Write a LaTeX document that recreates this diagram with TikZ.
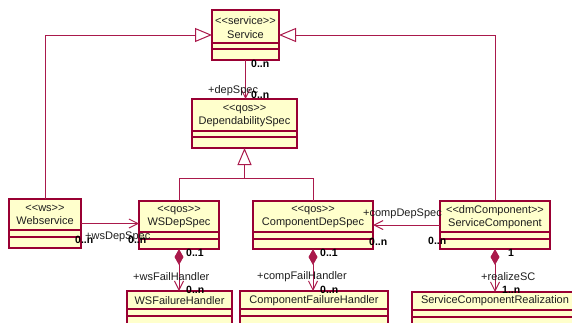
\documentclass[tikz,border=0pt]{standalone}
\usepackage{fontspec}
\setmainfont{Liberation Sans}
\usetikzlibrary{arrows.meta}
\definecolor{bd}{RGB}{153,0,51}
\definecolor{ln}{RGB}{170,25,75}
\definecolor{fl}{RGB}{255,255,204}
\definecolor{tx}{RGB}{30,30,30}
\tikzset{
  box/.style={draw=bd, fill=fl, line width=1.2pt, inner sep=0pt, outer sep=0pt, rectangle},
  boxsep/.style={draw=bd, line width=1.1pt},
  title/.style={font=\fontsize{11}{13.5}\selectfont, align=center, text=tx, inner sep=0pt},
  conn/.style={draw=ln, line width=1pt},
  gen/.style={conn, -{Triangle[open, length=17pt, width=14pt]}},
  nav/.style={conn, -{Straight Barb[length=9pt, width=9pt]}},
  comp/.style={conn, {Diamond[length=16pt, width=9pt, fill=ln]}-{Straight Barb[length=9pt, width=9pt]}},
  lab/.style={font=\fontsize{11}{12}\selectfont, text=tx, inner sep=0pt, anchor=west},
  mult/.style={lab, font=\fontsize{10.5}{12}\selectfont\bfseries, text=black},
}
\newcommand\st[1]{{<}{<}#1{>}{>}}
\newcommand\umlbox[7]{%
  \node[box, anchor=north west, minimum width={(#4-#2)*1pt}, minimum height={(#5-#3)*1pt}] (#1) at (#2,#3) {};
  \draw[boxsep] (#2,#6) -- (#4,#6) (#2,#7) -- (#4,#7);}
\begin{document}
\begin{tikzpicture}[x=1pt,y=-1pt]
\useasboundingbox (0,0) rectangle (572,322);
% classes
\umlbox{svc}{212}{10}{279}{60}{43}{49}
\node[title] (svcT) at (245.5,27.5) {\st{service}\\Service};
\umlbox{dep}{192}{99}{297}{148}{131}{137}
\node[title] (depT) at (244.5,116) {\st{qos}\\DependabilitySpec};
\umlbox{ws}{9}{199}{81}{248}{230}{237}
\node[title] (wsT) at (45,215) {\st{ws}\\Webservice};
\umlbox{wsd}{139}{201}{219}{249}{232}{239}
\node[title] (wsdT) at (179,217) {\st{qos}\\WSDepSpec};
\umlbox{cds}{253}{201}{373}{249}{232}{239}
\node[title] (cdsT) at (313,217) {\st{qos}\\ComponentDepSpec};
\umlbox{sc}{440}{201}{550}{249}{232}{239}
\node[title] (scT) at (495,217) {\st{dmComponent}\\ServiceComponent};
\umlbox{wsf}{127}{291}{232}{340}{309}{316}
\node[title] (wsfT) at (179.5,300.5) {WSFailureHandler};
\umlbox{cfh}{240}{291}{388}{340}{309}{316}
\node[title] (cfhT) at (314,300.5) {ComponentFailureHandler};
\umlbox{scr}{412}{292}{578}{340}{310}{317}
\node[title] (scrT) at (495,301) {ServiceComponentRealization};
% generalizations
\draw[gen] (ws.north) |- (svc.west);
\draw[gen] (sc.north) |- (svc.east);
\coordinate (gj) at (244.5,178);
\draw[conn] (wsd.north) |- (gj);
\draw[conn] (cds.north) |- (gj);
\draw[gen] (gj) -- (dep.south);
% associations
\draw[nav] (svc.south) -- (svc.south |- dep.north);
\draw[nav] (ws.east) -- (ws.east -| wsd.west);
\draw[nav] (sc.west) -- (sc.west -| cds.east);
\draw[comp] (wsd.south) -- (wsd.south |- wsf.north);
\draw[comp] (cds.south) -- (cds.south |- cfh.north);
\draw[comp] (sc.south) -- (sc.south |- scr.north);
% labels
\node[mult] (m1) at (251,64) {0..n};
\node[lab] (l1) at (208,90.5) {+depSpec};
\node[mult] (m2) at (251,95) {0..n};
\node[mult] (m3) at (75,240) {0..n};
\node[lab] (l2) at (85,237) {+wsDepSpec};
\node[mult] (m4) at (128,240) {0..n};
\node[lab] (l3) at (363,214) {+compDepSpec};
\node[mult] (m5) at (369,242) {0..n};
\node[mult] (m6) at (428,241) {0..n};
\node[mult] (m7) at (186,253) {0..1};
\node[lab] (l4) at (133,277) {+wsFailHandler};
\node[mult] (m8) at (186,289.5) {0..n};
\node[mult] (m9) at (320,253) {0..1};
\node[lab] (l5) at (257,277) {+compFailHandler};
\node[mult] (m10) at (320,289.5) {0..n};
\node[mult] (m11) at (508,253) {1};
\node[lab] (l6) at (481,277) {+realizeSC};
\node[mult] (m12) at (502,290) {1..n};
\end{tikzpicture}
\end{document}
